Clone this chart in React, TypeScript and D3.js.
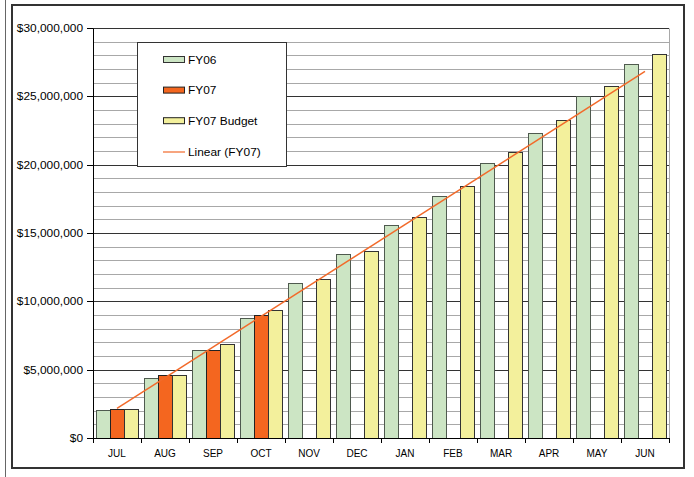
import React from "react";
import * as d3 from "d3";

const months = ["JUL", "AUG", "SEP", "OCT", "NOV", "DEC", "JAN", "FEB", "MAR", "APR", "MAY", "JUN"];
const fy06 = [2050000, 4410000, 6460000, 8800000, 11340000, 13460000, 15580000, 17680000, 20090000, 22290000, 25050000, 27340000];
const fy07: (number | null)[] = [2140000, 4580000, 6410000, 9000000, null, null, null, null, null, null, null, null];
const fy07Budget = [2140000, 4610000, 6850000, 9370000, 11630000, 13680000, 16190000, 18440000, 20900000, 23290000, 25760000, 28100000];
const yTicks = [0, 5000000, 10000000, 15000000, 20000000, 25000000, 30000000];
const seriesNames = ["FY06", "FY07", "FY07 Budget"];
const legendNames = ["FY06", "FY07", "FY07 Budget", "Linear (FY07)"];

const W = 694;
const H = 477;
const plot = { left: 93, right: 669, top: 28, bottom: 438 };
const fills = ["#CCE5C4", "#F4661F", "#F3F09C"];
const strokes = ["#4f5a4f", "#222222", "#333333"];
const trendColor = "#F26A2A";
const fontFamily = "'Liberation Sans', Arial, sans-serif";
const SX = 1.19;

export default function App() {
  const x = d3.scaleBand<string>().domain(months).range([plot.left, plot.right]).paddingInner(0.125).paddingOuter(0.0625);
  const xs = d3.scaleBand<string>().domain(seriesNames).range([0, x.bandwidth()]);
  const y = d3.scaleLinear().domain([0, 30000000]).range([plot.bottom, plot.top]);
  const fmt = d3.format("$,.0f");
  const series = [fy06, fy07, fy07Budget];

  // linear trend of FY07
  const pts = fy07.map((v, i) => [i, v] as [number, number | null]).filter((p) => p[1] != null) as [number, number][];
  const mx = d3.mean(pts, (p) => p[0])!;
  const my = d3.mean(pts, (p) => p[1])!;
  const slope = d3.sum(pts, (p) => (p[0] - mx) * (p[1] - my)) / d3.sum(pts, (p) => (p[0] - mx) ** 2);
  const intercept = my - slope * mx;
  const trendPts: [number, number][] = [0, months.length - 1].map((i) => [
    x(months[i])! + x.bandwidth() / 2,
    y(intercept + slope * i),
  ]);
  const line = d3.line();

  const minor = d3.range(1000000, 30000001, 1000000);
  const legendY = [60, 90.6, 121.2, 152];

  const boundaries = months.map((m) => x(m)! - x.step() * 0.0625).concat([plot.right]);

  return (
    <svg width={W} height={H} style={{ position: "absolute", left: 0, top: 0, background: "#fff" }} fontFamily={fontFamily}>
      <rect x={0} y={0} width={W} height={H} fill="#fff" />
      <line x1={5.5} x2={5.5} y1={0} y2={H} stroke="#666" strokeWidth={1} />
      <rect x={12} y={5} width={672} height={463} fill="#fff" stroke="#333" strokeWidth={2} />

      {/* gridlines */}
      {minor.map((v) => {
        const major = v % 5000000 === 0;
        const yy = Math.round(y(v)) + 0.5;
        return (
          <line key={v} x1={plot.left} x2={plot.right} y1={yy} y2={yy} stroke={major ? "#333" : "#a8a8a8"} strokeWidth={1} />
        );
      })}
      <line x1={plot.right + 0.5} x2={plot.right + 0.5} y1={Math.round(y(30000000)) + 0.5} y2={plot.bottom} stroke="#a8a8a8" />

      {/* bars */}
      {series.map((s, si) =>
        s.map((v, i) =>
          v == null ? null : (
            <rect
              key={si + "-" + i}
              x={x(months[i])! + xs(seriesNames[si])! + 0.5}
              y={Math.round(y(v)) + 0.5}
              width={xs.bandwidth()}
              height={Math.round(y(0)) - Math.round(y(v))}
              fill={fills[si]}
              stroke={strokes[si]}
              strokeWidth={1}
            />
          )
        )
      )}

      {/* trend line */}
      <path d={line(trendPts)!} fill="none" stroke={trendColor} strokeWidth={1.5} />

      {/* axes */}
      <line x1={plot.left + 0.5} x2={plot.left + 0.5} y1={Math.round(y(30000000)) + 0.5} y2={plot.bottom + 0.5} stroke="#000" />
      <line x1={plot.left} x2={plot.right + 1} y1={plot.bottom + 0.5} y2={plot.bottom + 0.5} stroke="#000" />
      {yTicks.map((t) => {
        const yy = Math.round(y(t)) + 0.5;
        return (
          <g key={t}>
            <line x1={plot.left - 6} x2={plot.left} y1={yy} y2={yy} stroke="#000" />
            <text transform={`translate(${83},${yy}) scale(${SX},1)`} textAnchor="end" dy="0.35em" fontSize={10} fill="#000">
              {fmt(t)}
            </text>
          </g>
        );
      })}
      {boundaries.map((b, i) => (
        <line key={i} x1={Math.round(b) + 0.5} x2={Math.round(b) + 0.5} y1={plot.bottom} y2={plot.bottom + 5} stroke="#000" />
      ))}
      {months.map((m) => (
        <text key={m} x={x(m)! + x.bandwidth() / 2} y={457} textAnchor="middle" fontSize={10} fill="#000">
          {m}
        </text>
      ))}

      {/* legend */}
      <rect x={137.5} y={42.5} width={149} height={124} fill="#fff" stroke="#333" strokeWidth={1} />
      {legendNames.map((n, i) => (
        <g key={n}>
          {i < 3 ? (
            <rect x={163.5} y={legendY[i] - 3.5} width={21} height={6} fill={fills[i]} stroke={strokes[i] === "#4f5a4f" ? "#333" : "#222"} />
          ) : (
            <line x1={163} x2={185} y1={legendY[i]} y2={legendY[i]} stroke={trendColor} strokeWidth={1.2} />
          )}
          <text transform={`translate(188,${legendY[i]}) scale(${SX},1)`} dy="0.35em" fontSize={10} fill="#000">
            {n}
          </text>
        </g>
      ))}
    </svg>
  );
}
